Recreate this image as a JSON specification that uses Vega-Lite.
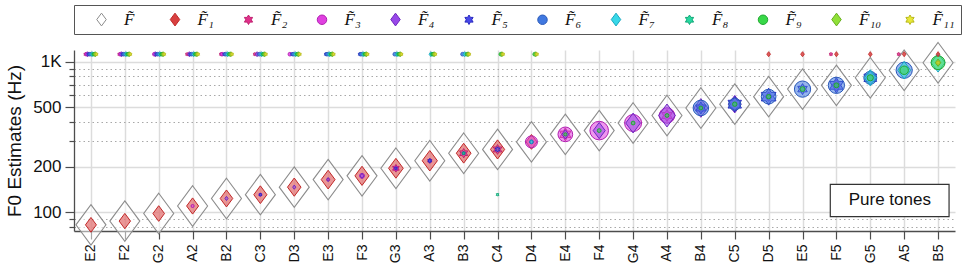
{
  "$schema": "https://vega.github.io/schema/vega-lite/v6.json",
  "width": 881,
  "height": 181,
  "padding": {"left": 5, "right": 5, "top": 4, "bottom": 8},
  "background": "white",
  "config": {
    "view": {"stroke": null},
    "font": "Liberation Sans",
    "axis": {"domainColor": "#4d4d4d", "tickColor": "#4d4d4d", "labelColor": "#111111", "titleColor": "#111111", "labelFont": "Liberation Sans", "titleFont": "Liberation Sans", "titleFontWeight": "normal"},
    "legend": {"orient": "top", "direction": "horizontal", "columns": 12, "gridAlign": "all", "strokeColor": "#555555", "fillColor": "white", "padding": 6, "symbolSize": 90, "symbolOffset": 13, "labelFont": "Liberation Serif", "labelFontStyle": "italic", "labelFontSize": 17, "labelColor": "#111111", "labelOffset": 14, "columnPadding": 6.5, "offset": 16, "symbolStrokeWidth": 1}
  },
  "datasets": {
    "truth": [
      {"note": "E2", "s": "F\u0303", "f0": 82.41}, {"note": "F2", "s": "F\u0303", "f0": 87.31}, {"note": "G2", "s": "F\u0303", "f0": 98.0}, {"note": "A2", "s": "F\u0303", "f0": 110.0}, {"note": "B2", "s": "F\u0303", "f0": 123.47},
      {"note": "C3", "s": "F\u0303", "f0": 130.81}, {"note": "D3", "s": "F\u0303", "f0": 146.83}, {"note": "E3", "s": "F\u0303", "f0": 164.81}, {"note": "F3", "s": "F\u0303", "f0": 174.61}, {"note": "G3", "s": "F\u0303", "f0": 196.0}, {"note": "A3", "s": "F\u0303", "f0": 220.0}, {"note": "B3", "s": "F\u0303", "f0": 246.94},
      {"note": "C4", "s": "F\u0303", "f0": 261.63}, {"note": "D4", "s": "F\u0303", "f0": 293.66}, {"note": "E4", "s": "F\u0303", "f0": 329.63}, {"note": "F4", "s": "F\u0303", "f0": 349.23}, {"note": "G4", "s": "F\u0303", "f0": 392.0}, {"note": "A4", "s": "F\u0303", "f0": 440.0}, {"note": "B4", "s": "F\u0303", "f0": 493.88},
      {"note": "C5", "s": "F\u0303", "f0": 523.25}, {"note": "D5", "s": "F\u0303", "f0": 587.33}, {"note": "E5", "s": "F\u0303", "f0": 659.26}, {"note": "F5", "s": "F\u0303", "f0": 698.46}, {"note": "G5", "s": "F\u0303", "f0": 783.99}, {"note": "A5", "s": "F\u0303", "f0": 880.0}, {"note": "B5", "s": "F\u0303", "f0": 987.77}
    ],
    "annotation": [
      {"label": "Pure tones", "note": "G5", "note2": "B5", "f0": 119.7, "lo": 93.6, "hi": 153}
    ],
    "est": [
      {"note": "E2", "s": "F\u0303\u2081", "f0": 82.41, "w": 0.25}, {"note": "F2", "s": "F\u0303\u2081", "f0": 87.31, "w": 0.27}, {"note": "G2", "s": "F\u0303\u2081", "f0": 98.0, "w": 0.28}, {"note": "A2", "s": "F\u0303\u2081", "f0": 110.0, "w": 0.30}, {"note": "B2", "s": "F\u0303\u2081", "f0": 123.47, "w": 0.33},
      {"note": "C3", "s": "F\u0303\u2081", "f0": 130.81, "w": 0.36}, {"note": "D3", "s": "F\u0303\u2081", "f0": 146.83, "w": 0.38}, {"note": "E3", "s": "F\u0303\u2081", "f0": 164.81, "w": 0.40}, {"note": "F3", "s": "F\u0303\u2081", "f0": 174.61, "w": 0.42}, {"note": "G3", "s": "F\u0303\u2081", "f0": 196.0, "w": 0.45}, {"note": "A3", "s": "F\u0303\u2081", "f0": 220.0, "w": 0.48}, {"note": "B3", "s": "F\u0303\u2081", "f0": 246.94, "w": 0.45},
      {"note": "C4", "s": "F\u0303\u2081", "f0": 261.63, "w": 0.42}, {"note": "D4", "s": "F\u0303\u2081", "f0": 293.66, "w": 0.25},
      {"note": "D5", "s": "F\u0303\u2081", "f0": 1125, "w": 0.02}, {"note": "E5", "s": "F\u0303\u2081", "f0": 1125, "w": 0.02}, {"note": "F5", "s": "F\u0303\u2081", "f0": 1125, "w": 0.02}, {"note": "G5", "s": "F\u0303\u2081", "f0": 1125, "w": 0.02}, {"note": "A5", "s": "F\u0303\u2081", "f0": 1125, "w": 0.02}, {"note": "B5", "s": "F\u0303\u2081", "f0": 1125, "w": 0.02},

      {"note": "E3", "s": "F\u0303\u2082", "f0": 164.81, "w": 0.02}, {"note": "G3", "s": "F\u0303\u2082", "f0": 196.0, "w": 0.12}, {"note": "A3", "s": "F\u0303\u2082", "f0": 220.0, "w": 0.05}, {"note": "B3", "s": "F\u0303\u2082", "f0": 246.94, "w": 0.18}, {"note": "C4", "s": "F\u0303\u2082", "f0": 261.63, "w": 0.2},
      {"note": "E4", "s": "F\u0303\u2082", "f0": 329.63, "w": 0.35}, {"note": "A4", "s": "F\u0303\u2082", "f0": 440.0, "w": 0.3}, {"note": "F5", "s": "F\u0303\u2082", "f0": 698.46, "w": 0.04},
      {"note": "E2", "s": "F\u0303\u2082", "f0": 1125, "w": 0.02}, {"note": "F2", "s": "F\u0303\u2082", "f0": 1125, "w": 0.02}, {"note": "A2", "s": "F\u0303\u2082", "f0": 1125, "w": 0.02}, {"note": "B2", "s": "F\u0303\u2082", "f0": 1125, "w": 0.02}, {"note": "C3", "s": "F\u0303\u2082", "f0": 1125, "w": 0.02}, {"note": "F5", "s": "F\u0303\u2082", "f0": 1125, "w": 0.02}, {"note": "A5", "s": "F\u0303\u2082", "f0": 1125, "w": 0.02},

      {"note": "A2", "s": "F\u0303\u2083", "f0": 110.0, "w": 0.02}, {"note": "C3", "s": "F\u0303\u2083", "f0": 130.81, "w": 0.02}, {"note": "F3", "s": "F\u0303\u2083", "f0": 174.61, "w": 0.05}, {"note": "G3", "s": "F\u0303\u2083", "f0": 196.0, "w": 0.04}, {"note": "D4", "s": "F\u0303\u2083", "f0": 293.66, "w": 0.3},
      {"note": "E4", "s": "F\u0303\u2083", "f0": 329.63, "w": 0.45}, {"note": "F4", "s": "F\u0303\u2083", "f0": 349.23, "w": 0.72}, {"note": "G4", "s": "F\u0303\u2083", "f0": 392.0, "w": 0.6}, {"note": "A4", "s": "F\u0303\u2083", "f0": 440.0, "w": 0.5}, {"note": "B4", "s": "F\u0303\u2083", "f0": 493.88, "w": 0.1},
      {"note": "E2", "s": "F\u0303\u2083", "f0": 1125, "w": 0.02}, {"note": "F2", "s": "F\u0303\u2083", "f0": 1125, "w": 0.02}, {"note": "G2", "s": "F\u0303\u2083", "f0": 1125, "w": 0.02}, {"note": "B2", "s": "F\u0303\u2083", "f0": 1125, "w": 0.02}, {"note": "D3", "s": "F\u0303\u2083", "f0": 1125, "w": 0.02},

      {"note": "B2", "s": "F\u0303\u2084", "f0": 123.47, "w": 0.02}, {"note": "D3", "s": "F\u0303\u2084", "f0": 146.83, "w": 0.02}, {"note": "E3", "s": "F\u0303\u2084", "f0": 164.81, "w": 0.02}, {"note": "F3", "s": "F\u0303\u2084", "f0": 174.61, "w": 0.03}, {"note": "A3", "s": "F\u0303\u2084", "f0": 220.0, "w": 0.03},
      {"note": "E4", "s": "F\u0303\u2084", "f0": 329.63, "w": 0.1}, {"note": "F4", "s": "F\u0303\u2084", "f0": 349.23, "w": 0.3}, {"note": "G4", "s": "F\u0303\u2084", "f0": 392.0, "w": 0.45}, {"note": "A4", "s": "F\u0303\u2084", "f0": 440.0, "w": 0.6}, {"note": "B4", "s": "F\u0303\u2084", "f0": 493.88, "w": 0.4}, {"note": "C5", "s": "F\u0303\u2084", "f0": 523.25, "w": 0.35}, {"note": "D5", "s": "F\u0303\u2084", "f0": 587.33, "w": 0.1}, {"note": "F5", "s": "F\u0303\u2084", "f0": 698.46, "w": 0.15},
      {"note": "E2", "s": "F\u0303\u2084", "f0": 1125, "w": 0.02}, {"note": "F2", "s": "F\u0303\u2084", "f0": 1125, "w": 0.02}, {"note": "G2", "s": "F\u0303\u2084", "f0": 1125, "w": 0.02}, {"note": "A2", "s": "F\u0303\u2084", "f0": 1125, "w": 0.02}, {"note": "C3", "s": "F\u0303\u2084", "f0": 1125, "w": 0.02},

      {"note": "C3", "s": "F\u0303\u2085", "f0": 130.81, "w": 0.02}, {"note": "G3", "s": "F\u0303\u2085", "f0": 196.0, "w": 0.02}, {"note": "A3", "s": "F\u0303\u2085", "f0": 220.0, "w": 0.03}, {"note": "B3", "s": "F\u0303\u2085", "f0": 246.94, "w": 0.03}, {"note": "C4", "s": "F\u0303\u2085", "f0": 261.63, "w": 0.06},
      {"note": "B4", "s": "F\u0303\u2085", "f0": 493.88, "w": 0.3}, {"note": "C5", "s": "F\u0303\u2085", "f0": 523.25, "w": 0.5}, {"note": "D5", "s": "F\u0303\u2085", "f0": 587.33, "w": 0.6}, {"note": "E5", "s": "F\u0303\u2085", "f0": 659.26, "w": 0.25}, {"note": "F5", "s": "F\u0303\u2085", "f0": 698.46, "w": 0.5}, {"note": "G5", "s": "F\u0303\u2085", "f0": 783.99, "w": 0.45},
      {"note": "E2", "s": "F\u0303\u2085", "f0": 1125, "w": 0.02}, {"note": "F2", "s": "F\u0303\u2085", "f0": 1125, "w": 0.02}, {"note": "G2", "s": "F\u0303\u2085", "f0": 1125, "w": 0.02}, {"note": "A2", "s": "F\u0303\u2085", "f0": 1125, "w": 0.02}, {"note": "B2", "s": "F\u0303\u2085", "f0": 1125, "w": 0.02}, {"note": "D3", "s": "F\u0303\u2085", "f0": 1125, "w": 0.02}, {"note": "E3", "s": "F\u0303\u2085", "f0": 1125, "w": 0.02}, {"note": "F3", "s": "F\u0303\u2085", "f0": 1125, "w": 0.02},

      {"note": "D4", "s": "F\u0303\u2086", "f0": 293.66, "w": 0.03}, {"note": "B4", "s": "F\u0303\u2086", "f0": 493.88, "w": 0.5}, {"note": "C5", "s": "F\u0303\u2086", "f0": 523.25, "w": 0.3}, {"note": "D5", "s": "F\u0303\u2086", "f0": 587.33, "w": 0.45}, {"note": "E5", "s": "F\u0303\u2086", "f0": 659.26, "w": 0.55}, {"note": "F5", "s": "F\u0303\u2086", "f0": 698.46, "w": 0.55}, {"note": "G5", "s": "F\u0303\u2086", "f0": 783.99, "w": 0.35}, {"note": "A5", "s": "F\u0303\u2086", "f0": 880.0, "w": 0.55},
      {"note": "E2", "s": "F\u0303\u2086", "f0": 1125, "w": 0.02}, {"note": "F2", "s": "F\u0303\u2086", "f0": 1125, "w": 0.02}, {"note": "G2", "s": "F\u0303\u2086", "f0": 1125, "w": 0.02}, {"note": "A2", "s": "F\u0303\u2086", "f0": 1125, "w": 0.02}, {"note": "B2", "s": "F\u0303\u2086", "f0": 1125, "w": 0.02}, {"note": "C3", "s": "F\u0303\u2086", "f0": 1125, "w": 0.02}, {"note": "D3", "s": "F\u0303\u2086", "f0": 1125, "w": 0.02}, {"note": "E3", "s": "F\u0303\u2086", "f0": 1125, "w": 0.02}, {"note": "F3", "s": "F\u0303\u2086", "f0": 1125, "w": 0.02}, {"note": "G3", "s": "F\u0303\u2086", "f0": 1125, "w": 0.02}, {"note": "B3", "s": "F\u0303\u2086", "f0": 1125, "w": 0.02},

      {"note": "D4", "s": "F\u0303\u2087", "f0": 293.66, "w": 0.02}, {"note": "G5", "s": "F\u0303\u2087", "f0": 783.99, "w": 0.3}, {"note": "A5", "s": "F\u0303\u2087", "f0": 880.0, "w": 0.35}, {"note": "B5", "s": "F\u0303\u2087", "f0": 987.77, "w": 0.4},
      {"note": "E2", "s": "F\u0303\u2087", "f0": 1125, "w": 0.02}, {"note": "F2", "s": "F\u0303\u2087", "f0": 1125, "w": 0.02}, {"note": "G2", "s": "F\u0303\u2087", "f0": 1125, "w": 0.02}, {"note": "A2", "s": "F\u0303\u2087", "f0": 1125, "w": 0.02}, {"note": "B2", "s": "F\u0303\u2087", "f0": 1125, "w": 0.02}, {"note": "C3", "s": "F\u0303\u2087", "f0": 1125, "w": 0.02}, {"note": "D3", "s": "F\u0303\u2087", "f0": 1125, "w": 0.02}, {"note": "E3", "s": "F\u0303\u2087", "f0": 1125, "w": 0.02}, {"note": "F3", "s": "F\u0303\u2087", "f0": 1125, "w": 0.02}, {"note": "G3", "s": "F\u0303\u2087", "f0": 1125, "w": 0.02}, {"note": "A3", "s": "F\u0303\u2087", "f0": 1125, "w": 0.02}, {"note": "B3", "s": "F\u0303\u2087", "f0": 1125, "w": 0.02},

      {"note": "B3", "s": "F\u0303\u2088", "f0": 246.94, "w": 0.02}, {"note": "C4", "s": "F\u0303\u2088", "f0": 131.0, "w": 0.02},
      {"note": "E2", "s": "F\u0303\u2088", "f0": 1125, "w": 0.02}, {"note": "F2", "s": "F\u0303\u2088", "f0": 1125, "w": 0.02}, {"note": "G2", "s": "F\u0303\u2088", "f0": 1125, "w": 0.02}, {"note": "A2", "s": "F\u0303\u2088", "f0": 1125, "w": 0.02}, {"note": "B2", "s": "F\u0303\u2088", "f0": 1125, "w": 0.02}, {"note": "C3", "s": "F\u0303\u2088", "f0": 1125, "w": 0.02}, {"note": "D3", "s": "F\u0303\u2088", "f0": 1125, "w": 0.02}, {"note": "E3", "s": "F\u0303\u2088", "f0": 1125, "w": 0.02}, {"note": "F3", "s": "F\u0303\u2088", "f0": 1125, "w": 0.02}, {"note": "G3", "s": "F\u0303\u2088", "f0": 1125, "w": 0.02}, {"note": "A3", "s": "F\u0303\u2088", "f0": 1125, "w": 0.02},

      {"note": "E4", "s": "F\u0303\u2089", "f0": 329.63, "w": 0.02}, {"note": "F4", "s": "F\u0303\u2089", "f0": 349.23, "w": 0.03}, {"note": "G4", "s": "F\u0303\u2089", "f0": 392.0, "w": 0.03}, {"note": "A4", "s": "F\u0303\u2089", "f0": 440.0, "w": 0.03}, {"note": "B4", "s": "F\u0303\u2089", "f0": 493.88, "w": 0.03}, {"note": "C5", "s": "F\u0303\u2089", "f0": 523.25, "w": 0.04}, {"note": "D5", "s": "F\u0303\u2089", "f0": 587.33, "w": 0.04}, {"note": "E5", "s": "F\u0303\u2089", "f0": 659.26, "w": 0.05}, {"note": "F5", "s": "F\u0303\u2089", "f0": 698.46, "w": 0.05}, {"note": "G5", "s": "F\u0303\u2089", "f0": 783.99, "w": 0.08}, {"note": "A5", "s": "F\u0303\u2089", "f0": 880.0, "w": 0.15}, {"note": "B5", "s": "F\u0303\u2089", "f0": 987.77, "w": 0.4},
      {"note": "E2", "s": "F\u0303\u2089", "f0": 1125, "w": 0.02}, {"note": "F2", "s": "F\u0303\u2089", "f0": 1125, "w": 0.02}, {"note": "G2", "s": "F\u0303\u2089", "f0": 1125, "w": 0.02}, {"note": "A2", "s": "F\u0303\u2089", "f0": 1125, "w": 0.02}, {"note": "B2", "s": "F\u0303\u2089", "f0": 1125, "w": 0.02}, {"note": "C3", "s": "F\u0303\u2089", "f0": 1125, "w": 0.02}, {"note": "D3", "s": "F\u0303\u2089", "f0": 1125, "w": 0.02}, {"note": "E3", "s": "F\u0303\u2089", "f0": 1125, "w": 0.02}, {"note": "F3", "s": "F\u0303\u2089", "f0": 1125, "w": 0.02}, {"note": "G3", "s": "F\u0303\u2089", "f0": 1125, "w": 0.02}, {"note": "A3", "s": "F\u0303\u2089", "f0": 1125, "w": 0.02}, {"note": "B3", "s": "F\u0303\u2089", "f0": 1125, "w": 0.02}, {"note": "C4", "s": "F\u0303\u2089", "f0": 1125, "w": 0.02}, {"note": "D4", "s": "F\u0303\u2089", "f0": 1125, "w": 0.02},

      {"note": "B5", "s": "F\u0303\u2081\u2080", "f0": 987.77, "w": 0.06},
      {"note": "E2", "s": "F\u0303\u2081\u2080", "f0": 1125, "w": 0.02}, {"note": "F2", "s": "F\u0303\u2081\u2080", "f0": 1125, "w": 0.02}, {"note": "G2", "s": "F\u0303\u2081\u2080", "f0": 1125, "w": 0.02}, {"note": "A2", "s": "F\u0303\u2081\u2080", "f0": 1125, "w": 0.02}, {"note": "B2", "s": "F\u0303\u2081\u2080", "f0": 1125, "w": 0.02}, {"note": "C3", "s": "F\u0303\u2081\u2080", "f0": 1125, "w": 0.02}, {"note": "D3", "s": "F\u0303\u2081\u2080", "f0": 1125, "w": 0.02}, {"note": "E3", "s": "F\u0303\u2081\u2080", "f0": 1125, "w": 0.02}, {"note": "F3", "s": "F\u0303\u2081\u2080", "f0": 1125, "w": 0.02}, {"note": "G3", "s": "F\u0303\u2081\u2080", "f0": 1125, "w": 0.02}, {"note": "A3", "s": "F\u0303\u2081\u2080", "f0": 1125, "w": 0.02}, {"note": "B3", "s": "F\u0303\u2081\u2080", "f0": 1125, "w": 0.02}, {"note": "C4", "s": "F\u0303\u2081\u2080", "f0": 1125, "w": 0.02}, {"note": "D4", "s": "F\u0303\u2081\u2080", "f0": 1125, "w": 0.02},

      {"note": "B5", "s": "F\u0303\u2081\u2081", "f0": 987.77, "w": 0.03},
      {"note": "E2", "s": "F\u0303\u2081\u2081", "f0": 1125, "w": 0.02}, {"note": "F2", "s": "F\u0303\u2081\u2081", "f0": 1125, "w": 0.02}, {"note": "G2", "s": "F\u0303\u2081\u2081", "f0": 1125, "w": 0.02}, {"note": "A2", "s": "F\u0303\u2081\u2081", "f0": 1125, "w": 0.02}, {"note": "B2", "s": "F\u0303\u2081\u2081", "f0": 1125, "w": 0.02}, {"note": "C3", "s": "F\u0303\u2081\u2081", "f0": 1125, "w": 0.02}, {"note": "D3", "s": "F\u0303\u2081\u2081", "f0": 1125, "w": 0.02}, {"note": "E3", "s": "F\u0303\u2081\u2081", "f0": 1125, "w": 0.02}, {"note": "F3", "s": "F\u0303\u2081\u2081", "f0": 1125, "w": 0.02}, {"note": "G3", "s": "F\u0303\u2081\u2081", "f0": 1125, "w": 0.02}, {"note": "A3", "s": "F\u0303\u2081\u2081", "f0": 1125, "w": 0.02}, {"note": "B3", "s": "F\u0303\u2081\u2081", "f0": 1125, "w": 0.02}, {"note": "C4", "s": "F\u0303\u2081\u2081", "f0": 1125, "w": 0.02}, {"note": "D4", "s": "F\u0303\u2081\u2081", "f0": 1125, "w": 0.02}
    ]
  },
  "encoding": {
    "x": {
      "field": "note", "type": "ordinal",
      "scale": {"type": "point", "padding": 0.5, "domain": ["E2","F2","G2","A2","B2","C3","D3","E3","F3","G3","A3","B3","C4","D4","E4","F4","G4","A4","B4","C5","D5","E5","F5","G5","A5","B5"]},
      "axis": {"title": null, "labelAngle": -90, "labelFontSize": 14, "tickSize": 8, "labelPadding": 5, "grid": true, "gridColor": "#dcdcdc", "gridWidth": 1.5, "domainWidth": 1.3, "tickWidth": 1.2}
    },
    "y": {
      "field": "f0", "type": "quantitative",
      "scale": {"type": "log", "domain": [75, 1200], "nice": false},
      "axis": {
        "title": "F0 Estimates (Hz)", "titleFontSize": 19, "titlePadding": 8,
        "values": [80, 90, 100, 200, 300, 400, 500, 600, 700, 800, 900, 1000],
        "labelExpr": "datum.value == 1000 ? '1K' : (datum.value == 100 || datum.value == 200 || datum.value == 500) ? toString(datum.value) : ''",
        "labelFontSize": 17, "labelPadding": 4, "labelOverlap": false, "labelFlush": false,
        "tickSize": {"condition": {"test": "datum.value == 100 || datum.value == 200 || datum.value == 500 || datum.value == 1000", "value": 9}, "value": 5},
        "grid": true,
        "gridDash": {"condition": {"test": "datum.value == 100 || datum.value == 200 || datum.value == 500 || datum.value == 1000", "value": []}, "value": [1.5, 3]},
        "gridColor": {"condition": {"test": "datum.value == 100 || datum.value == 200 || datum.value == 500 || datum.value == 1000", "value": "#dcdcdc"}, "value": "#a8a8a8"},
        "gridWidth": {"condition": {"test": "datum.value == 100 || datum.value == 200 || datum.value == 500 || datum.value == 1000", "value": 1.6}, "value": 1},
        "domainWidth": 1.3, "tickWidth": 1.2
      }
    }
  },
  "layer": [
    {
      "data": {"name": "truth"},
      "mark": {"type": "point", "filled": true, "size": 900, "fillOpacity": 0.5, "strokeWidth": 1.1},
      "encoding": {
        "color": {"field": "s", "type": "nominal", "legend": {"title": null},
          "scale": {"domain": ["F\u0303","F\u0303\u2081","F\u0303\u2082","F\u0303\u2083","F\u0303\u2084","F\u0303\u2085","F\u0303\u2086","F\u0303\u2087","F\u0303\u2088","F\u0303\u2089","F\u0303\u2081\u2080","F\u0303\u2081\u2081"],
                    "range": ["#ffffff","#d84040","#e0308a","#e040e0","#9848e8","#4848e8","#4078e0","#38d8e8","#28d8a0","#38d848","#90e038","#e8e838"]}},
        "stroke": {"field": "s", "type": "nominal", "legend": {"title": null},
          "scale": {"domain": ["F\u0303","F\u0303\u2081","F\u0303\u2082","F\u0303\u2083","F\u0303\u2084","F\u0303\u2085","F\u0303\u2086","F\u0303\u2087","F\u0303\u2088","F\u0303\u2089","F\u0303\u2081\u2080","F\u0303\u2081\u2081"],
                    "range": ["#8c8c8c","#c02828","#c0206f","#b020b0","#7028c0","#2828c0","#2858b8","#18a8c0","#10a878","#20a830","#68b020","#b8b818"]}},
        "shape": {"field": "s", "type": "nominal", "legend": {"title": null},
          "scale": {"domain": ["F\u0303","F\u0303\u2081","F\u0303\u2082","F\u0303\u2083","F\u0303\u2084","F\u0303\u2085","F\u0303\u2086","F\u0303\u2087","F\u0303\u2088","F\u0303\u2089","F\u0303\u2081\u2080","F\u0303\u2081\u2081"],
                    "range": ["M0,-1.35L1,0L0,1.35L-1,0Z","M0,-1.35L1,0L0,1.35L-1,0Z","M0,-1L0.2887,-0.5L0.866,-0.5L0.5774,0L0.866,0.5L0.2887,0.5L0,1L-0.2887,0.5L-0.866,0.5L-0.5774,0L-0.866,-0.5L-0.2887,-0.5Z","circle","M0,-1.35L1,0L0,1.35L-1,0Z","M0,-1L0.2887,-0.5L0.866,-0.5L0.5774,0L0.866,0.5L0.2887,0.5L0,1L-0.2887,0.5L-0.866,0.5L-0.5774,0L-0.866,-0.5L-0.2887,-0.5Z","circle","M0,-1.35L1,0L0,1.35L-1,0Z","M0,-1L0.2887,-0.5L0.866,-0.5L0.5774,0L0.866,0.5L0.2887,0.5L0,1L-0.2887,0.5L-0.866,0.5L-0.5774,0L-0.866,-0.5L-0.2887,-0.5Z","circle","M0,-1.35L1,0L0,1.35L-1,0Z","M0,-1L0.2887,-0.5L0.866,-0.5L0.5774,0L0.866,0.5L0.2887,0.5L0,1L-0.2887,0.5L-0.866,0.5L-0.5774,0L-0.866,-0.5L-0.2887,-0.5Z"]}}
      }
    },
    {
      "data": {"name": "est"},
      "transform": [{"filter": "datum.f0 < 1100"}],
      "mark": {"type": "point", "filled": true, "fillOpacity": 0.55, "strokeWidth": 1},
      "encoding": {
        "color": {"field": "s", "type": "nominal", "legend": {"title": null}},
        "stroke": {"field": "s", "type": "nominal", "legend": {"title": null}},
        "shape": {"field": "s", "type": "nominal", "legend": {"title": null}},
        "size": {"field": "w", "type": "quantitative", "scale": {"domain": [0, 1], "range": [0, 480]}, "legend": null}
      }
    },
    {
      "data": {"name": "est"},
      "transform": [{"filter": "datum.f0 >= 1100"}],
      "mark": {"type": "point", "filled": true, "fillOpacity": 0.85, "size": 14, "strokeWidth": 0.8},
      "encoding": {
        "color": {"field": "s", "type": "nominal", "legend": {"title": null}},
        "stroke": {"field": "s", "type": "nominal", "legend": {"title": null}},
        "shape": {"field": "s", "type": "nominal", "legend": {"title": null}},
        "xOffset": {"field": "s", "type": "nominal", "scale": {"type": "point", "domain": ["F\u0303\u2082","F\u0303\u2083","F\u0303\u2084","F\u0303\u2085","F\u0303\u2086","F\u0303\u2081","F\u0303\u2087","F\u0303\u2088","F\u0303\u2089","F\u0303\u2081\u2080","F\u0303\u2081\u2081"], "range": [-6, 6]}}
      }
    },
    {
      "data": {"name": "annotation"},
      "mark": {"type": "rect", "fill": "white", "stroke": "#333333", "strokeWidth": 1.2, "xOffset": -40, "x2Offset": 11},
      "encoding": {
        "x": {"field": "note", "type": "ordinal"},
        "x2": {"field": "note2"},
        "y": {"field": "lo", "type": "quantitative"},
        "y2": {"field": "hi"}
      }
    },
    {
      "data": {"name": "annotation"},
      "mark": {"type": "text", "fontSize": 17, "font": "Liberation Sans", "color": "#111111", "dx": 19.5, "align": "center", "baseline": "middle"},
      "encoding": {
        "text": {"field": "label"}
      }
    }
  ]
}
